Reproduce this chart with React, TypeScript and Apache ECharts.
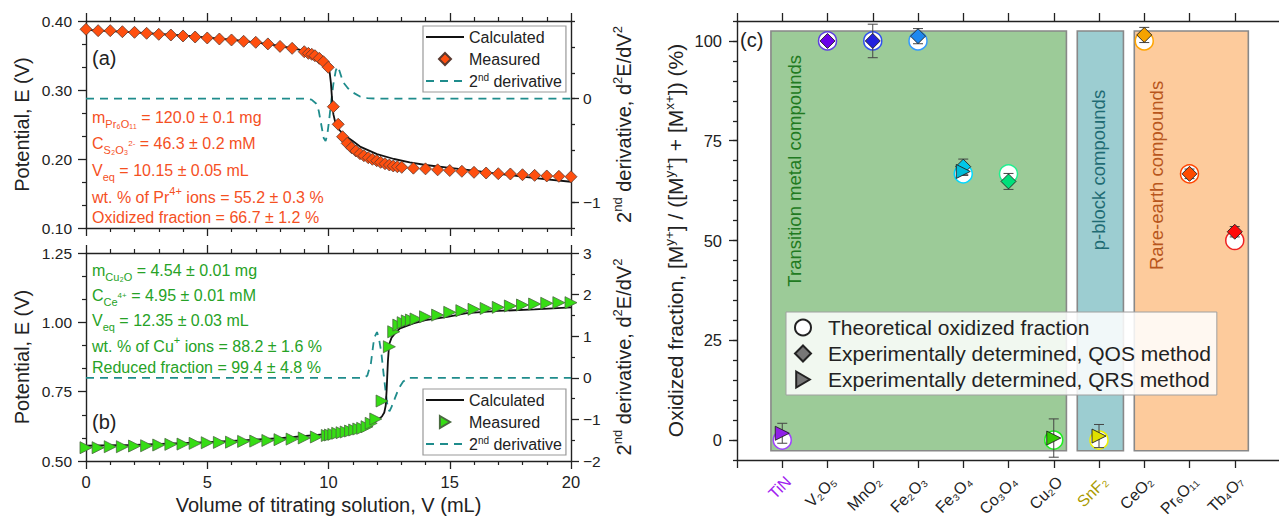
import React, { useEffect, useRef } from 'react';
import * as echarts from 'echarts';

const FF = '"Liberation Sans", Arial, Helvetica, sans-serif';
const AX = '#222';

// ---------------- Panel (a): Pr6O11 ----------------
const aMeasV = [0, 0.5, 1, 1.5, 2, 2.5, 3, 3.5, 4, 4.5, 5, 5.5, 6, 6.5, 7, 7.5, 8, 8.5, 9, 9.17, 9.31, 9.44, 9.62, 9.79, 9.99, 10.2, 10.4, 10.58, 10.77, 10.95, 11.13, 11.3, 11.46, 11.64, 11.81, 11.99, 12.15, 12.33, 12.51, 12.67, 12.84, 13.02, 13.5, 14, 14.5, 15, 15.5, 16, 16.5, 17, 17.5, 18, 18.5, 19, 19.5, 20];
const aMeasE = [0.388, 0.386, 0.386, 0.3845, 0.3836, 0.3822, 0.3807, 0.3797, 0.3783, 0.3768, 0.3754, 0.3739, 0.3725, 0.3706, 0.3691, 0.3668, 0.3632, 0.3604, 0.3555, 0.3531, 0.3517, 0.3497, 0.3459, 0.341, 0.3329, 0.2758, 0.2503, 0.2323, 0.2227, 0.2164, 0.2116, 0.2077, 0.2048, 0.2019, 0.1996, 0.1975, 0.1952, 0.1932, 0.1913, 0.1899, 0.1888, 0.1879, 0.1867, 0.1857, 0.1843, 0.1833, 0.1822, 0.1807, 0.1797, 0.1787, 0.1783, 0.1772, 0.1763, 0.1754, 0.1749, 0.1743];
const aCalcV = [0, 2, 4, 6, 7, 8, 9, 9.5, 9.8, 9.95, 10.05, 10.1, 10.15, 10.2, 10.3, 10.45, 10.6, 11, 11.3, 12, 12.7, 13.35, 14, 15, 16, 17, 18, 19, 20];
const aCalcE = [0.387, 0.3835, 0.379, 0.373, 0.369, 0.364, 0.357, 0.35, 0.343, 0.335, 0.325, 0.31, 0.285, 0.265, 0.25, 0.242, 0.236, 0.226, 0.218, 0.207, 0.2, 0.195, 0.1913, 0.187, 0.183, 0.1785, 0.1745, 0.1705, 0.167];
const aDerivV = [0, 9, 9.3, 9.5, 9.6, 9.7, 9.8, 9.88, 9.95, 10.03, 10.1, 10.2, 10.3, 10.37, 10.45, 10.6, 10.8, 11, 11.3, 11.6, 12, 20];
const aDerivD = [0, 0, -0.01, -0.05, -0.12, -0.25, -0.38, -0.41, -0.35, -0.2, -0.05, 0.14, 0.27, 0.31, 0.27, 0.16, 0.1, 0.06, 0.02, 0.005, 0, 0];

// ---------------- Panel (b): Cu2O ----------------
const bMeasV = [0, 0.5, 1, 1.5, 2, 2.5, 3, 3.5, 4, 4.5, 5, 5.5, 6, 6.5, 7, 7.5, 8, 8.5, 9, 9.5, 9.95, 10.08, 10.22, 10.38, 10.56, 10.73, 10.91, 11.08, 11.25, 11.41, 11.59, 11.76, 11.95, 12.21, 12.51, 12.69, 12.9, 13.08, 13.25, 13.42, 13.61, 14, 14.5, 15, 15.5, 16, 16.5, 17, 17.5, 18, 18.5, 19, 19.5, 20];
const bMeasE = [0.548, 0.548, 0.5515, 0.5515, 0.554, 0.555, 0.5576, 0.56, 0.561, 0.5636, 0.5659, 0.567, 0.568, 0.5707, 0.5718, 0.574, 0.577, 0.579, 0.583, 0.5865, 0.592, 0.5937, 0.596, 0.5998, 0.602, 0.6045, 0.608, 0.6117, 0.6153, 0.6178, 0.6236, 0.6359, 0.6514, 0.7163, 0.912, 0.966, 0.99, 0.9987, 1.005, 1.0084, 1.012, 1.02, 1.026, 1.036, 1.042, 1.047, 1.05, 1.054, 1.059, 1.0625, 1.066, 1.0686, 1.071, 1.071];
const bCalcV = [0, 2, 5, 8, 10, 11, 11.5, 11.8, 12, 12.2, 12.3, 12.36, 12.4, 12.45, 12.5, 12.6, 12.8, 12.95, 13.5, 14, 14.9, 15.7, 17, 18.5, 20];
const bCalcE = [0.555, 0.558, 0.568, 0.582, 0.598, 0.61, 0.62, 0.633, 0.648, 0.66, 0.675, 0.7, 0.76, 0.86, 0.92, 0.945, 0.966, 0.978, 0.9965, 1.008, 1.02, 1.033, 1.041, 1.047, 1.054];
const bDerivV = [0, 11.45, 11.6, 11.75, 11.88, 12, 12.08, 12.18, 12.28, 12.38, 12.46, 12.52, 12.6, 12.74, 12.9, 13.08, 13.3, 20];
const bDerivD = [0, 0, 0.05, 0.35, 0.95, 1.1, 0.95, 0.6, 0.05, -0.45, -0.77, -0.8, -0.7, -0.49, -0.25, -0.09, 0, 0];

// ---------------- Panel (c): oxidized fraction ----------------
const compounds = ['TiN', 'V₂O₅', 'MnO₂', 'Fe₂O₃', 'Fe₃O₄', 'Co₃O₄', 'Cu₂O', 'SnF₂', 'CeO₂', 'Pr₆O₁₁', 'Tb₄O₇'];
const compoundLabelColor = ['#a020f0', '#222', '#222', '#222', '#222', '#222', '#222', '#aa9a00', '#222', '#222', '#222'];
const theoValue = [0, 100, 100, 100, 66.7, 66.7, 0, 0, 100, 66.7, 50];
const theoColor = ['#a040ff', '#6040e0', '#3050f0', '#3399ff', '#00d8ff', '#20f090', '#20ee20', '#f0f000', '#ffa500', '#ff4500', '#ee2222'];
const qosPos = [2, 3, 4, 5, 6, 9, 10, 11];
const qosValue = [100, 100, 101.2, 68.5, 64.8, 101.5, 66.7, 52.2];
const qosErr = [0.5, 4.2, 1.9, 1.9, 2.0, 1.9, 1.2, 1.3];
const qosColor = ['#6a00e8', '#2222dd', '#1e88f0', '#00c8e8', '#00e07a', '#f5a300', '#ff4a00', '#ff0a0a'];
const qrsPos = [1, 5, 7, 8];
const qrsValue = [1.7, 67.3, 0.5, 1.0];
const qrsErr = [2.5, 1.0, 4.8, 2.9];
const qrsColor = ['#9020e8', '#00bcd8', '#33cc00', '#e0e000'];
const groupNames = ['Transition metal compounds', 'p-block compounds', 'Rare-earth compounds'];
const groupFrom = [0.75, 7.52, 8.78];
const groupTo = [7.28, 8.54, 11.3];
const groupLow = -2.7;
const groupHigh = 102.5;
const groupFill = ['#9ccb98', '#9ccdd1', '#fdcb9c'];
const groupText = ['#217a21', '#1f6b73', '#b8561c'];

const DIAMOND = 'path://M0,-1L1,0L0,1L-1,0Z';
const TRI_RIGHT = 'path://M0,0L1.7,1L0,2Z';

function merge(a: any, b: any): any {
  const out: any = { ...a };
  for (const k of Object.keys(b)) {
    const bv = b[k];
    const av = a[k];
    if (bv && typeof bv === 'object' && !Array.isArray(bv) && av && typeof av === 'object' && !Array.isArray(av)) out[k] = merge(av, bv);
    else out[k] = bv;
  }
  return out;
}

const baseAxis: any = {
  type: 'value',
  axisLine: { show: true, onZero: false, lineStyle: { color: AX, width: 1.4 } },
  axisTick: { show: true, inside: false, length: 8, lineStyle: { color: AX, width: 1.3 } },
  minorTick: { show: false, length: 4, lineStyle: { color: AX, width: 1.2 } },
  splitLine: { show: false },
  minorSplitLine: { show: false },
  axisLabel: { show: true, color: AX, fontSize: 15.5, fontFamily: FF, hideOverlap: false, showMinLabel: true, showMaxLabel: true },
  nameTextStyle: { color: AX, fontSize: 20, fontFamily: FF },
  nameMoveOverlap: false,
};
const ax = (o: any) => merge(baseAxis, o);
const minus = (s: string) => s.replace('-', '\u2212');
const supRich = { s: { fontSize: 13, verticalAlign: 'top', fontFamily: FF, color: AX, lineHeight: 26 } };

function buildOption(): any {
  const xy = (xs: number[], ys: number[]) => xs.map((x, i) => [x, ys[i]]);
  const errData = [
    ...qosPos.map((p, i) => [p, qosValue[i] - qosErr[i], qosValue[i] + qosErr[i]]),
    ...qrsPos.map((p, i) => [p, qrsValue[i] - qrsErr[i], qrsValue[i] + qrsErr[i]]),
  ];
  const legendMap: Record<string, string> = {
    'a-calc': 'Calculated', 'a-meas': 'Measured', 'a-der': '2{s|nd} derivative',
    'b-calc': 'Calculated', 'b-meas': 'Measured', 'b-der': '2{s|nd} derivative',
  };
  const smallLegend = (top: number, names: string[], measIcon: string) => ({
    data: [
      { name: names[0], itemStyle: { opacity: 0 } },
      { name: names[1], icon: measIcon },
      { name: names[2], itemStyle: { opacity: 0 } },
    ],
    orient: 'vertical',
    left: 423,
    top,
    itemWidth: 38,
    itemHeight: 12,
    itemGap: 4,
    padding: [2, 4, 2, 2],
    symbolRotate: 0,
    symbolKeepAspect: true,
    backgroundColor: '#fff',
    borderColor: '#999',
    borderWidth: 1.2,
    selectedMode: false,
    formatter: (n: string) => legendMap[n],
    textStyle: { fontSize: 16, color: AX, fontFamily: FF, lineHeight: 18, rich: { s: { fontSize: 10, verticalAlign: 'top', fontFamily: FF, color: AX, lineHeight: 18 } } },
  });

  return {
    animation: false,
    backgroundColor: '#fff',
    textStyle: { fontFamily: FF },
    grid: [
      { left: 86, top: 21, width: 485, height: 207, containLabel: false, outerBoundsMode: 'none' },
      { left: 86, top: 253, width: 485, height: 208, containLabel: false, outerBoundsMode: 'none' },
      { left: 737, top: 21, width: 543, height: 439, containLabel: false, outerBoundsMode: 'none' },
    ],
    legend: [
      smallLegend(26, ['a-calc', 'a-meas', 'a-der'], DIAMOND),
      smallLegend(389, ['b-calc', 'b-meas', 'b-der'], TRI_RIGHT),
      {
        data: [
          { name: 'Theoretical oxidized fraction' },
          { name: 'Experimentally determined, QOS method', icon: DIAMOND },
          { name: 'Experimentally determined, QRS method', icon: TRI_RIGHT },
        ],
        orient: 'vertical', left: 786, top: 312, itemWidth: 40, itemHeight: 16, itemGap: 5,
        padding: [5, 6, 5, 8], backgroundColor: 'rgba(255,255,255,0.86)', borderColor: '#a0a0a0', borderWidth: 1,
        selectedMode: false, z: 60, symbolRotate: 0, symbolKeepAspect: true,
        textStyle: { fontSize: 21, color: AX, fontFamily: FF },
      },
    ],
    xAxis: [
      ax({ gridIndex: 0, position: 'bottom', min: 0, max: 20, interval: 5, axisLabel: { show: false }, minorTick: { show: true, splitNumber: 5 } }),
      ax({ gridIndex: 0, position: 'top', min: 0, max: 20, interval: 5, axisLabel: { show: false }, minorTick: { show: true, splitNumber: 5 } }),
      ax({
        gridIndex: 1, position: 'bottom', min: 0, max: 20, interval: 5, minorTick: { show: true, splitNumber: 5 },
        axisLabel: { fontSize: 16.5, margin: 12 },
        name: 'Volume of titrating solution, V (mL)', nameLocation: 'middle', nameGap: 34,
      }),
      ax({ gridIndex: 1, position: 'top', min: 0, max: 20, interval: 5, axisLabel: { show: false }, minorTick: { show: true, splitNumber: 5 } }),
      ax({ gridIndex: 2, position: 'bottom', min: 0, max: 12, interval: 1, axisLabel: { show: false } }),
      ax({ gridIndex: 2, position: 'top', min: 0, max: 12, interval: 1, axisLabel: { show: false } }),
    ],
    yAxis: [
      ax({
        gridIndex: 0, position: 'left', min: 0.1, max: 0.4, interval: 0.1,
        minorTick: { show: true, splitNumber: 3 },
        axisLabel: { margin: 14, formatter: (v: number) => v.toFixed(2) },
        name: 'Potential, E (V)', nameLocation: 'middle', nameGap: 54, nameRotate: 90,
      }),
      ax({
        gridIndex: 0, position: 'right', min: -1.25, max: 0.75, interval: 0.25,
        axisTick: { length: 4 },
        axisLabel: { margin: 12, formatter: (v: number) => (Math.abs(v - Math.round(v)) < 1e-6 ? minus(String(Math.round(v))) : '') },
        name: '2{s|nd} derivative, d{s|2}E/dV{s|2}', nameLocation: 'middle', nameGap: 40, nameRotate: 90,
        nameTextStyle: { lineHeight: 26, rich: supRich },
      }),
      ax({
        gridIndex: 0, position: 'right', min: -1.25, max: 0.75, interval: 0.25,
        axisLine: { show: false }, axisLabel: { show: false },
        axisTick: { customValues: [-1, 0], length: 8 },
      }),
      ax({
        gridIndex: 1, position: 'left', min: 0.5, max: 1.25, interval: 0.25,
        minorTick: { show: true, splitNumber: 3 },
        axisLabel: { margin: 14, formatter: (v: number) => v.toFixed(2) },
        name: 'Potential, E (V)', nameLocation: 'middle', nameGap: 54, nameRotate: 90,
      }),
      ax({
        gridIndex: 1, position: 'right', min: -2, max: 3, interval: 1,
        minorTick: { show: true, splitNumber: 2 },
        axisLabel: { margin: 12, formatter: (v: number) => minus(String(v)) },
        name: '2{s|nd} derivative, d{s|2}E/dV{s|2}', nameLocation: 'middle', nameGap: 40, nameRotate: 90,
        nameTextStyle: { lineHeight: 26, rich: supRich },
      }),
      ax({
        gridIndex: 2, position: 'left', min: -5, max: 105, interval: 5,
        axisTick: { length: 4 },
        axisLabel: { margin: 15, fontSize: 16.5, formatter: (v: number) => (Math.round(v) % 25 === 0 ? String(Math.round(v)) : '') },
        name: 'Oxidized fraction, [M{s|y+}] / ([M{s|y+}] + [M{s|x+}]) (%)', nameLocation: 'middle', nameGap: 48, nameRotate: 90,
        nameTextStyle: { fontSize: 21, lineHeight: 27, rich: { s: { fontSize: 13.5, verticalAlign: 'top', fontFamily: FF, color: AX, lineHeight: 27 } } },
      }),
      ax({
        gridIndex: 2, position: 'left', min: -5, max: 105, interval: 5,
        axisLine: { show: false }, axisLabel: { show: false },
        axisTick: { customValues: [0, 25, 50, 75, 100], length: 8 },
      }),
    ],
    series: [
      {
        name: 'a-der', type: 'line', xAxisIndex: 0, yAxisIndex: 1, data: xy(aDerivV, aDerivD), symbol: 'none',
        lineStyle: { color: '#1f8c8c', width: 1.8, type: [8, 6] }, itemStyle: { color: '#1f8c8c' }, z: 2,
      },
      {
        name: 'a-calc', type: 'line', xAxisIndex: 0, yAxisIndex: 0, data: xy(aCalcV, aCalcE), symbol: 'none',
        lineStyle: { color: '#111', width: 1.8 }, itemStyle: { color: '#111' }, z: 3,
      },
      {
        name: 'a-meas', type: 'scatter', xAxisIndex: 0, yAxisIndex: 0, data: xy(aMeasV, aMeasE), symbol: 'diamond', symbolSize: 12,
        itemStyle: { color: '#ff4f0f', borderColor: '#5a3a30', borderWidth: 0.8, opacity: 1 }, z: 4,
      },
      {
        name: 'b-der', type: 'line', xAxisIndex: 2, yAxisIndex: 4, data: xy(bDerivV, bDerivD), symbol: 'none',
        lineStyle: { color: '#1f8c8c', width: 1.8, type: [8, 6] }, itemStyle: { color: '#1f8c8c' }, z: 2,
      },
      {
        name: 'b-calc', type: 'line', xAxisIndex: 2, yAxisIndex: 3, data: xy(bCalcV, bCalcE), symbol: 'none',
        lineStyle: { color: '#111', width: 1.8 }, itemStyle: { color: '#111' }, z: 3,
      },
      {
        name: 'b-meas', type: 'scatter', xAxisIndex: 2, yAxisIndex: 3, data: xy(bMeasV, bMeasE), symbol: 'triangle', symbolRotate: -90, symbolSize: 12,
        itemStyle: { color: '#36dd14', borderColor: '#4a6a40', borderWidth: 0.8, opacity: 1 }, z: 4,
      },
      {
        name: 'groups', type: 'scatter', xAxisIndex: 4, yAxisIndex: 5, data: [], silent: true, z: 1,
        markArea: {
          silent: true,
          data: groupNames.map((n, i) => [
            { name: n, xAxis: groupFrom[i], yAxis: groupLow, itemStyle: { color: groupFill[i], borderColor: '#888', borderWidth: 1.6 } },
            { xAxis: groupTo[i], yAxis: groupHigh },
          ]),
          label: { show: false },
        },
      },
      {
        name: 'Theoretical oxidized fraction', type: 'scatter', xAxisIndex: 4, yAxisIndex: 5, symbol: 'circle', symbolSize: 18,
        data: theoValue.map((v, i) => ({ value: [i + 1, v], itemStyle: { borderColor: theoColor[i] } })),
        itemStyle: { color: '#fff', borderColor: '#222', borderWidth: 1.5, opacity: 1 }, z: 5,
      },
      {
        name: 'errors', type: 'custom', xAxisIndex: 4, yAxisIndex: 5, data: errData, z: 6, silent: true,
        encode: { x: 0, y: [1, 2] },
        renderItem: (params: any, api: any) => {
          const x = api.value(0);
          const lo = api.coord([x, api.value(1)]);
          const hi = api.coord([x, api.value(2)]);
          const w = 5;
          const st = { stroke: '#444', lineWidth: 1 };
          return {
            type: 'group',
            children: [
              { type: 'line', shape: { x1: hi[0], y1: hi[1], x2: lo[0], y2: lo[1] }, style: st },
              { type: 'line', shape: { x1: hi[0] - w, y1: hi[1], x2: hi[0] + w, y2: hi[1] }, style: st },
              { type: 'line', shape: { x1: lo[0] - w, y1: lo[1], x2: lo[0] + w, y2: lo[1] }, style: st },
            ],
          };
        },
      },
      {
        name: 'Experimentally determined, QOS method', type: 'scatter', xAxisIndex: 4, yAxisIndex: 5, symbol: 'diamond', symbolSize: 15,
        data: qosPos.map((p, i) => ({ value: [p, qosValue[i]], itemStyle: { color: qosColor[i] } })),
        itemStyle: { color: '#777', borderColor: '#222', borderWidth: 0.9, opacity: 1 }, z: 7,
      },
      {
        name: 'Experimentally determined, QRS method', type: 'scatter', xAxisIndex: 4, yAxisIndex: 5, symbol: 'triangle', symbolRotate: -90, symbolSize: 14,
        data: qrsPos.map((p, i) => ({ value: [p, qrsValue[i]], itemStyle: { color: qrsColor[i] } })),
        itemStyle: { color: '#777', borderColor: '#222', borderWidth: 0.9, opacity: 1 }, z: 8,
      },
    ],
  };
}

function buildGraphics(chart: any): any[] {
  const annoA = ['m{sub|Pr₆O₁₁} = 120.0 ± 0.1 mg', 'C{sub|S₂O₃}{ss|2-} = 46.3 ± 0.2 mM', 'V{sub|eq} = 10.15 ± 0.05 mL', 'wt. % of Pr{sup|4+} ions = 55.2 ± 0.3 %', 'Oxidized fraction = 66.7 ± 1.2 %'];
  const annoAy = [117, 143, 170, 197, 217];
  const annoB = ['m{sub|Cu₂O} = 4.54 ± 0.01 mg', 'C{sub|Ce}{ss|4+} = 4.95 ± 0.01 mM', 'V{sub|eq} = 12.35 ± 0.03 mL', 'wt. % of Cu{sup|+} ions = 88.2 ± 1.6 %', 'Reduced fraction = 99.4 ± 4.8 %'];
  const annoBy = [270, 295, 320, 346, 367];
  const annoText = (t: string, y: number, color: string) => ({
    type: 'text', x: 92, y, z: 100,
    style: {
      text: t, fill: color, fontSize: 16, fontFamily: FF, lineHeight: 24, align: 'left', verticalAlign: 'middle',
      rich: {
        sub: { fontSize: 11, verticalAlign: 'bottom', fill: color, fontFamily: FF, lineHeight: 14 },
        sup: { fontSize: 11, verticalAlign: 'top', fill: color, fontFamily: FF, lineHeight: 14 },
        ss: { fontSize: 8, verticalAlign: 'middle', fill: color, fontFamily: FF, lineHeight: 10 },
      },
    },
  });
  const axisBottom = chart.convertToPixel({ yAxisIndex: 5 }, -5);
  const xLabels = compounds.map((c, i) => {
    const px = chart.convertToPixel({ xAxisIndex: 4 }, i + 1);
    return {
      type: 'group', x: px + 6, y: axisBottom + 19, rotation: Math.PI / 4, z: 100,
      children: [
        { type: 'text', x: 0, y: 0, style: { text: c, fontSize: 16, fontFamily: FF, fill: compoundLabelColor[i], align: 'right', verticalAlign: 'middle' } },
      ],
    };
  });
  const groupLabelTop = [96.5, 87.75, 90];
  const groupLabelX = [1.28, 7.99, 9.27];
  const groupLabels = groupNames.map((n, i) => ({
    type: 'text',
    x: chart.convertToPixel({ xAxisIndex: 4 }, groupLabelX[i]),
    y: chart.convertToPixel({ yAxisIndex: 5 }, groupLabelTop[i]),
    rotation: Math.PI / 2, z: 50,
    style: { text: n, fontSize: 18.5, fontFamily: FF, fill: groupText[i], align: 'right', verticalAlign: 'middle' },
  }));
  return [
    { type: 'text', x: 92, y: 58, style: { text: '(a)', fontSize: 20, fontFamily: FF, fill: AX, verticalAlign: 'middle' } },
    { type: 'text', x: 92, y: 422, style: { text: '(b)', fontSize: 20, fontFamily: FF, fill: AX, verticalAlign: 'middle' } },
    { type: 'text', x: 740, y: 40, z: 100, style: { text: '(c)', fontSize: 20, fontFamily: FF, fill: AX, verticalAlign: 'middle' } },
    ...annoA.map((t, i) => annoText(t, annoAy[i], '#f5501f')),
    ...annoB.map((t, i) => annoText(t, annoBy[i], '#26a226')),
    ...groupLabels,
    ...xLabels,
  ];
}

export default function App() {
  const ref = useRef<HTMLDivElement>(null);
  useEffect(() => {
    if (!ref.current) return;
    const chart = echarts.init(ref.current, undefined, { renderer: 'svg' });
    chart.setOption(buildOption());
    chart.setOption({ graphic: buildGraphics(chart) });
    return () => chart.dispose();
  }, []);
  return <div ref={ref} style={{ position: 'fixed', left: 0, top: 0, width: 1279, height: 518, background: '#fff' }} />;
}
